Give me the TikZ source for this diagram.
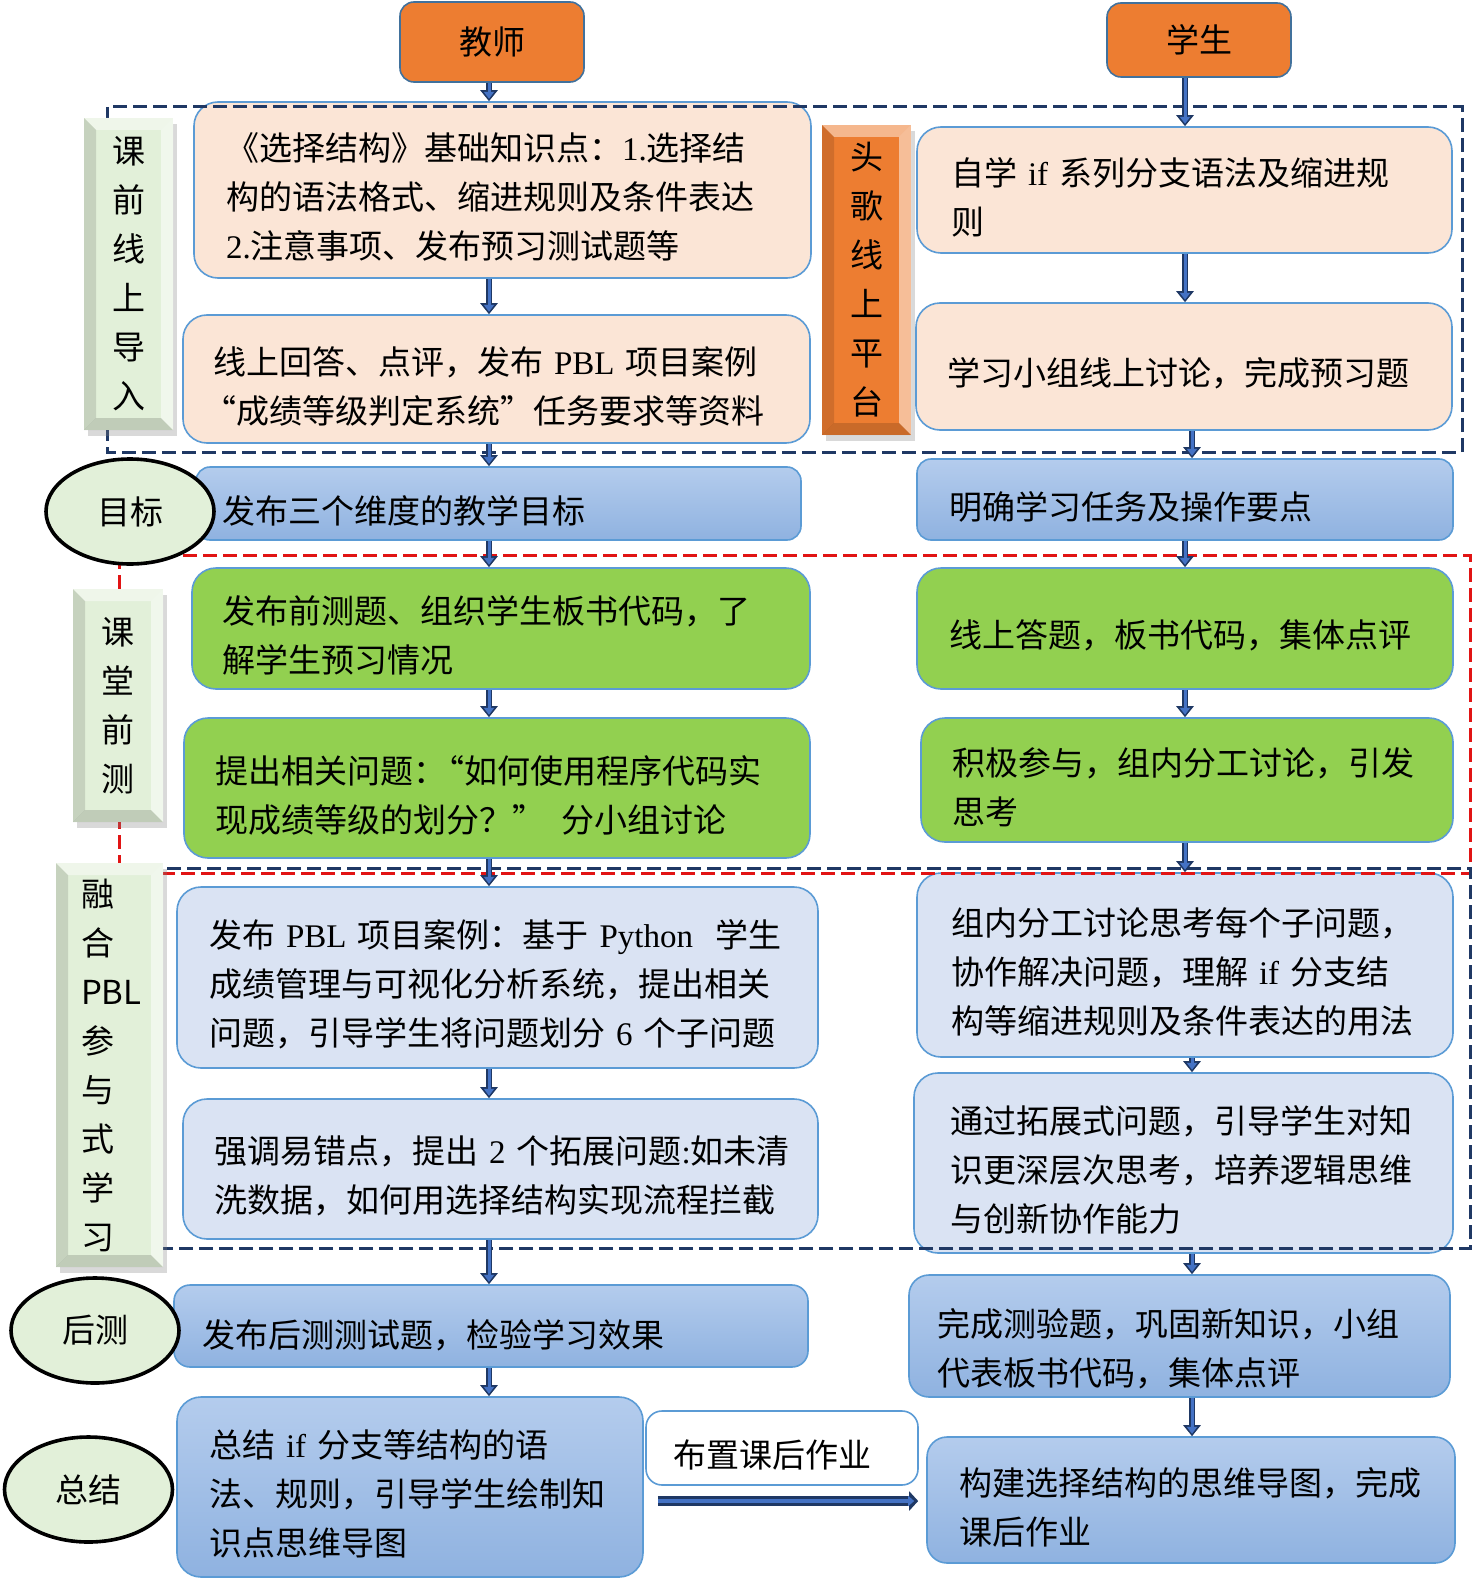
\documentclass[tikz,border=0pt]{standalone}
\usepackage{fontspec}
\usepackage{tikz}
\usetikzlibrary{arrows.meta,shapes.geometric,shadows}
\newfontfamily\cjk{Noto Sans CJK SC}
\newfontfamily\lat{Liberation Serif}

\definecolor{navy}{RGB}{31,56,100}
\definecolor{arrblue}{RGB}{68,114,196}
\definecolor{edgeblue}{RGB}{91,155,213}
\definecolor{headedge}{RGB}{65,113,156}
\definecolor{orangebox}{RGB}{237,125,49}
\definecolor{peach}{RGB}{251,229,214}
\definecolor{grass}{RGB}{146,208,80}
\definecolor{paleblue}{RGB}{218,227,243}
\definecolor{skytop}{RGB}{180,204,237}
\definecolor{skybot}{RGB}{143,178,224}
\definecolor{mint}{RGB}{226,240,217}
\definecolor{dashred}{RGB}{225,20,20}

\tikzset{
  arr/.style={draw=arrblue, line width=1.5pt, -{Triangle[width=5pt,length=3.5pt]}, shorten >=1.2pt,
    preaction={draw=navy, line width=3.2pt, -{Triangle[width=8.5pt,length=5.5pt]}, shorten >=0pt}},
  bigarr/.style={draw=arrblue, line width=1.6pt, -{Triangle[width=5pt,length=3pt]}, shorten >=6pt,
    preaction={draw=navy, line width=5pt, -{Triangle[width=9.5pt,length=4.5pt]}, shorten >=4pt}},
  card/.style={draw=edgeblue, line width=0.8pt, rounded corners=12pt, align=left, inner ysep=0pt,
    execute at begin node={\rule{0pt}{21pt}}},
  sky/.style={top color=skytop, bottom color=skybot},
  head/.style={draw=headedge, line width=0.8pt, fill=orangebox, rounded corners=7pt},
  goal/.style={ellipse, draw=black, line width=1.8pt, fill=mint, minimum width=84pt, minimum height=52.5pt, inner sep=0pt},
  dashbox/.style={line width=1.5pt, dash pattern=on 7pt off 3pt},
  bevel/.style={path picture={
    \coordinate (nw) at (path picture bounding box.north west);
    \coordinate (ne) at (path picture bounding box.north east);
    \coordinate (sw) at (path picture bounding box.south west);
    \coordinate (se) at (path picture bounding box.south east);
    \fill[white,opacity=.45] (nw) -- (ne) -- ([shift={(-6pt,-6pt)}]ne) -- ([shift={(6pt,-6pt)}]nw) -- cycle;
    \fill[black,opacity=.12] (nw) -- (sw) -- ([shift={(6pt,6pt)}]sw) -- ([shift={(6pt,-6pt)}]nw) -- cycle;
    \fill[white,opacity=.5] (ne) -- (se) -- ([shift={(-6pt,6pt)}]se) -- ([shift={(-6pt,-6pt)}]ne) -- cycle;
    \fill[black,opacity=.15] (sw) -- (se) -- ([shift={(-6pt,6pt)}]se) -- ([shift={(6pt,6pt)}]sw) -- cycle;
  }},
  stage/.style={rectangle, inner sep=0pt, align=center, bevel, drop shadow={opacity=.3, shadow xshift=2pt, shadow yshift=-3pt}}
}

\begin{document}
\begin{tikzpicture}[x=0.5pt, y=-0.5pt, every node/.style={font=\cjk\fontsize{16.5}{24.5}\selectfont}]

      \useasboundingbox (0,0) rectangle (1476,1578);

      % heads
      \node[head, minimum width=92pt, minimum height=40pt] (teacher) at (492,42) {教师};
      \node[head, minimum width=92pt, minimum height=37pt] (student) at (1199,40) {学生};

      % teacher column
      \begin{scope}[every node/.append style={card}]
        \node[fill=peach, minimum width=308.5pt, minimum height=88pt, inner xsep=16pt, text width=276.5pt] (t1) at (502.5,190)
          {《选择结构》基础知识点：{\lat 1.}选择结\\构的语法格式、缩进规则及条件表达\\{\lat 2.}注意事项、发布预习测试题等};
        \node[fill=peach, minimum width=313.5pt, minimum height=64pt, inner xsep=15pt, text width=283.5pt] (t2) at (496.5,379)
          {线上回答、点评，发布~{\lat PBL}~项目案例\\\leavevmode\kern-.3em“成绩等级判定系统”任务要求等资料};
        \node[sky, rounded corners=7pt, minimum width=302.5pt, minimum height=36.5pt, inner xsep=13pt, text width=276.5pt] (t3) at (498.5,503.5)
          {发布三个维度的教学目标};
        \node[fill=grass, minimum width=309pt, minimum height=60.5pt, inner xsep=15pt, text width=279pt] (t4) at (501,628.5)
          {发布前测题、组织学生板书代码，了\\解学生预习情况};
        \node[fill=grass, minimum width=313pt, minimum height=70pt, inner xsep=15.5pt, text width=282pt] (t5) at (497,788)
          {提出相关问题：\kern-.45em“如何使用程序代码实\\现成绩等级的划分？”\kern.5em 分小组讨论};
        \node[fill=paleblue, minimum width=320.5pt, minimum height=90.5pt, inner xsep=16pt, text width=288.5pt] (t6) at (497.5,977.5)
          {发布~{\lat PBL}~项目案例：基于~{\lat Python}~~学生\\成绩管理与可视化分析系统，提出相关\\问题，引导学生将问题划分~{\lat 6}~个子问题};
        \node[fill=paleblue, minimum width=317.5pt, minimum height=70pt, inner xsep=15.5pt, text width=286.5pt] (t7) at (500.5,1169)
          {强调易错点，提出~{\lat 2}~个拓展问题{\lat :}如未清\\洗数据，如何用选择结构实现流程拦截};
        \node[sky, rounded corners=8pt, minimum width=317pt, minimum height=41pt, inner xsep=14pt, text width=289pt,
          execute at begin node={\rule{0pt}{23.5pt}}] (t8) at (491,1326)
          {发布后测测试题，检验学习效果};
        \node[sky, minimum width=233pt, minimum height=90pt, inner xsep=16pt, text width=201pt] (t9) at (410,1487)
          {总结~{\lat if}~分支等结构的语\\法、规则，引导学生绘制知\\识点思维导图};
        \node[fill=white, rounded corners=8pt, minimum width=136pt, minimum height=37pt, inner xsep=13.5pt, text width=109pt] (homework) at (782,1448)
          {布置课后作业};
      \end{scope}

      % student column
      \begin{scope}[every node/.append style={card}]
        \node[fill=peach, minimum width=267.5pt, minimum height=63pt, inner xsep=17pt, text width=233.5pt] (s1) at (1184.5,190)
          {自学~{\lat if}~系列分支语法及缩进规\\则};
        \node[fill=peach, minimum width=268pt, minimum height=63.5pt, inner xsep=15.5pt, text width=237pt,
          execute at begin node={\rule{0pt}{18pt}}] (s2) at (1184,366.5)
          {学习小组线上讨论，完成预习题};
        \node[sky, rounded corners=7pt, minimum width=268pt, minimum height=40.5pt, inner xsep=16pt, text width=236pt,
          execute at begin node={\rule{0pt}{18pt}}] (s3) at (1185,499.5)
          {明确学习任务及操作要点};
        \node[fill=grass, minimum width=268pt, minimum height=60.5pt, inner xsep=16pt, text width=236pt] (s4) at (1185,628.5)
          {线上答题，板书代码，集体点评};
        \node[fill=grass, minimum width=266pt, minimum height=62pt, inner xsep=15.5pt, text width=235pt] (s5) at (1187,780)
          {积极参与，组内分工讨论，引发\\思考};
        \node[fill=paleblue, minimum width=268pt, minimum height=92pt, inner xsep=17pt, text width=234pt] (s6) at (1185,965)
          {组内分工讨论思考每个子问题，\\协作解决问题，理解~{\lat if}~分支结\\构等缩进规则及条件表达的用法};
        \node[fill=paleblue, minimum width=269.5pt, minimum height=90pt, inner xsep=18pt, text width=233.5pt] (s7) at (1183.5,1163)
          {通过拓展式问题，引导学生对知\\识更深层次思考，培养逻辑思维\\与创新协作能力};
        \node[sky, rounded corners=10pt, minimum width=270.5pt, minimum height=61pt, inner xsep=14pt, text width=242.5pt,
          execute at begin node={\rule{0pt}{27pt}}] (s8) at (1179.5,1336)
          {完成测验题，巩固新知识，小组\\代表板书代码，集体点评};
        \node[sky, rounded corners=10pt, minimum width=264pt, minimum height=63pt, inner xsep=16pt, text width=232pt] (s9) at (1191,1500)
          {构建选择结构的思维导图，完成\\课后作业};
      \end{scope}

      % phase frames
      \draw[dashbox, navy] (107,107) rectangle (1462,452);
      \draw[dashbox, dashred] (119,555) rectangle (1470,873);
      \draw[dashbox, navy] (119,868) rectangle (1470,1248);

      % phase labels
      \node[stage, fill=mint, minimum width=44.5pt, minimum height=156pt] (pre) at (128.5,274) {课\\前\\线\\上\\导\\入};
      \node[stage, fill=mint, minimum width=45pt, minimum height=116.5pt] (test) at (118,705.5) {课\\堂\\前\\测};
      \node[stage, fill=mint, minimum width=53.5pt, minimum height=202pt, align=left, inner xsep=12.5pt, text width=28.5pt] (pbl) at (109.5,1065)
        {融\\合\\PBL\\参\\与\\式\\学\\习};
      \node[stage, fill=orangebox, minimum width=44.5pt, minimum height=155pt] (platform) at (866.5,280) {头\\歌\\线\\上\\平\\台};

      \node[goal] (aim) at (130,511.5) {目标};
      \node[goal] (post) at (95,1330.5) {后测};
      \node[goal] (sum) at (88.5,1489.5) {总结};

      % arrows
      \coordinate (tx) at (489,0);
      \coordinate (sx) at (1185,0);
      \coordinate (sx2) at (1192,0);
      \coordinate (hy) at (0,1501);

      \draw[arr] (teacher.south -| tx) -- (t1.north -| tx);
      \draw[arr] (t1.south -| tx) -- (t2.north -| tx);
      \draw[arr] (t2.south -| tx) -- (t3.north -| tx);
      \draw[arr] (t3.south -| tx) -- (t4.north -| tx);
      \draw[arr] (t4.south -| tx) -- (t5.north -| tx);
      \draw[arr] (t5.south -| tx) -- (t6.north -| tx);
      \draw[arr] (t6.south -| tx) -- (t7.north -| tx);
      \draw[arr] (t7.south -| tx) -- (t8.north -| tx);
      \draw[arr] (t8.south -| tx) -- (t9.north -| tx);

      \draw[arr] (student.south -| sx) -- (s1.north -| sx);
      \draw[arr] (s1.south -| sx) -- (s2.north -| sx);
      \draw[arr] (s2.south -| sx2) -- (s3.north -| sx2);
      \draw[arr] (s3.south -| sx) -- (s4.north -| sx);
      \draw[arr] (s4.south -| sx) -- (s5.north -| sx);
      \draw[arr] (s5.south -| sx) -- (s6.north -| sx);
      \draw[arr] (s6.south -| sx2) -- (s7.north -| sx2);
      \draw[arr] (s7.south -| sx2) -- (s8.north -| sx2);
      \draw[arr] (s8.south -| sx2) -- (s9.north -| sx2);

      \draw[bigarr] (t9.east |- hy) ++(14,0) -- (s9.west |- hy);

\end{tikzpicture}
\end{document}
